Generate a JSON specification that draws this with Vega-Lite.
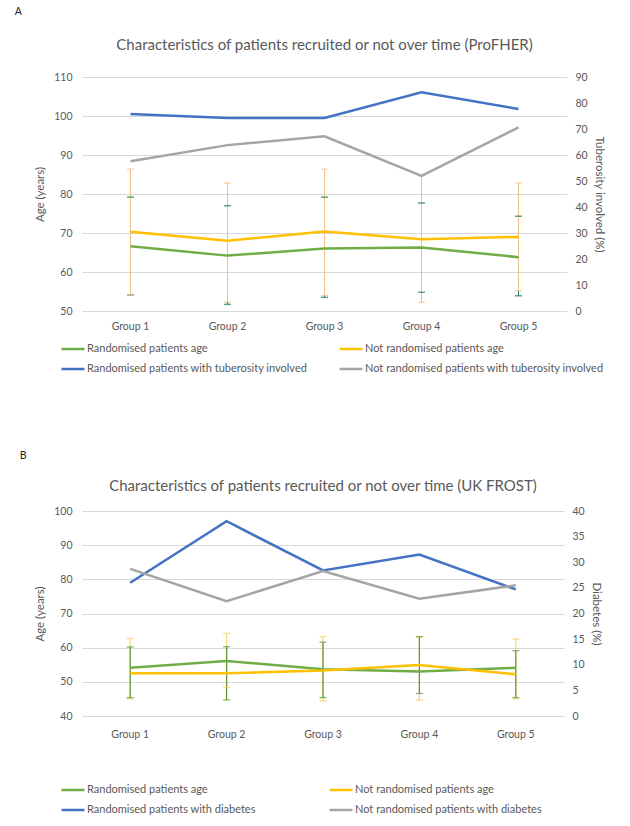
{
  "$schema": "https://vega.github.io/schema/vega-lite/v6.json",
  "padding": {"left": 14, "top": 6, "right": 10, "bottom": 0},
  "background": "white",
  "config": {
    "font": "Lato",
    "view": {"stroke": null},
    "axis": {"labelColor": "#595959", "titleColor": "#595959", "labelFontSize": 10.5, "titleFontSize": 11.5, "titleFontWeight": "normal", "domain": false, "ticks": false, "gridColor": "#D9D9D9", "gridWidth": 1},
    "title": {"color": "#595959", "fontWeight": "normal"},
    "legend": {"labelColor": "#595959", "labelFontSize": 11, "symbolType": "stroke", "symbolSize": 529, "symbolStrokeWidth": 2.5, "labelLimit": 400, "rowPadding": 2, "labelOffset": 1, "direction": "horizontal"}
  },
  "datasets": {
    "ageA": [
      {"g": "Group 1", "s": "Randomised patients age", "m": 66.6, "lo": 54.1, "hi": 79.2},
      {"g": "Group 2", "s": "Randomised patients age", "m": 64.2, "lo": 51.7, "hi": 77.0},
      {"g": "Group 3", "s": "Randomised patients age", "m": 66.0, "lo": 53.5, "hi": 79.2},
      {"g": "Group 4", "s": "Randomised patients age", "m": 66.3, "lo": 54.8, "hi": 77.7},
      {"g": "Group 5", "s": "Randomised patients age", "m": 63.8, "lo": 53.9, "hi": 74.3},
      {"g": "Group 1", "s": "Not randomised patients age", "m": 70.3, "lo": 54.1, "hi": 86.4},
      {"g": "Group 2", "s": "Not randomised patients age", "m": 68.0, "lo": 52.3, "hi": 82.8},
      {"g": "Group 3", "s": "Not randomised patients age", "m": 70.4, "lo": 54.0, "hi": 86.4},
      {"g": "Group 4", "s": "Not randomised patients age", "m": 68.4, "lo": 52.2, "hi": 84.7},
      {"g": "Group 5", "s": "Not randomised patients age", "m": 69.0, "lo": 55.2, "hi": 82.8}
    ],
    "pctA": [
      {"g": "Group 1", "s": "Randomised patients with tuberosity involved", "p": 75.8},
      {"g": "Group 2", "s": "Randomised patients with tuberosity involved", "p": 74.2},
      {"g": "Group 3", "s": "Randomised patients with tuberosity involved", "p": 74.2},
      {"g": "Group 4", "s": "Randomised patients with tuberosity involved", "p": 84.1},
      {"g": "Group 5", "s": "Randomised patients with tuberosity involved", "p": 77.7},
      {"g": "Group 1", "s": "Not randomised patients with tuberosity involved", "p": 57.6},
      {"g": "Group 2", "s": "Not randomised patients with tuberosity involved", "p": 63.8},
      {"g": "Group 3", "s": "Not randomised patients with tuberosity involved", "p": 67.2},
      {"g": "Group 4", "s": "Not randomised patients with tuberosity involved", "p": 52.0},
      {"g": "Group 5", "s": "Not randomised patients with tuberosity involved", "p": 70.6}
    ],
    "ageB": [
      {"g": "Group 1", "s": "Randomised patients age", "m": 54.1, "lo": 45.4, "hi": 60.2},
      {"g": "Group 2", "s": "Randomised patients age", "m": 56.1, "lo": 44.7, "hi": 60.3},
      {"g": "Group 3", "s": "Randomised patients age", "m": 53.7, "lo": 45.4, "hi": 61.6},
      {"g": "Group 4", "s": "Randomised patients age", "m": 53.0, "lo": 46.6, "hi": 63.2},
      {"g": "Group 5", "s": "Randomised patients age", "m": 54.1, "lo": 45.4, "hi": 59.1},
      {"g": "Group 1", "s": "Not randomised patients age", "m": 52.5, "lo": 45.0, "hi": 62.7},
      {"g": "Group 2", "s": "Not randomised patients age", "m": 52.5, "lo": 48.4, "hi": 64.2},
      {"g": "Group 3", "s": "Not randomised patients age", "m": 53.3, "lo": 44.4, "hi": 63.2},
      {"g": "Group 4", "s": "Not randomised patients age", "m": 54.9, "lo": 44.7, "hi": 63.2},
      {"g": "Group 5", "s": "Not randomised patients age", "m": 52.2, "lo": 45.0, "hi": 62.5}
    ],
    "pctB": [
      {"g": "Group 1", "s": "Randomised patients with diabetes", "p": 26.0},
      {"g": "Group 2", "s": "Randomised patients with diabetes", "p": 38.0},
      {"g": "Group 3", "s": "Randomised patients with diabetes", "p": 28.4},
      {"g": "Group 4", "s": "Randomised patients with diabetes", "p": 31.5},
      {"g": "Group 5", "s": "Randomised patients with diabetes", "p": 24.7},
      {"g": "Group 1", "s": "Not randomised patients with diabetes", "p": 28.7},
      {"g": "Group 2", "s": "Not randomised patients with diabetes", "p": 22.4},
      {"g": "Group 3", "s": "Not randomised patients with diabetes", "p": 28.3},
      {"g": "Group 4", "s": "Not randomised patients with diabetes", "p": 22.9},
      {"g": "Group 5", "s": "Not randomised patients with diabetes", "p": 25.5}
    ]
  },
  "spacing": 76,
  "resolve": {"scale": {"color": "independent"}, "legend": {"color": "independent"}},
  "vconcat": [
    {
      "title": {"text": "A", "anchor": "start", "fontSize": 10.5, "color": "#222222", "dx": -20, "offset": 21},
      "vconcat": [
        {
          "width": 485,
          "height": 234,
          "title": {"text": "Characteristics of patients recruited or not over time (ProFHER)", "fontSize": 15, "offset": 19},
          "encoding": {"x": {"field": "g", "type": "nominal", "axis": {"title": null, "labelAngle": 0, "grid": false, "labelPadding": 10}}},
          "layer": [
            {
              "data": {"name": "ageA"},
              "layer": [
                {
                  "transform": [{"filter": "datum.s === 'Randomised patients age'"}],
                  "mark": {"type": "rule", "color": "#1E7A50", "strokeWidth": 1},
                  "encoding": {
                    "y": {"field": "lo", "type": "quantitative", "scale": {"domain": [50, 110], "nice": false, "zero": false}, "axis": {"title": "Age (years)", "values": [50, 60, 70, 80, 90, 100, 110], "grid": true, "labelPadding": 10, "titlePadding": 8}},
                    "y2": {"field": "hi"}
                  }
                },
                {
                  "transform": [{"filter": "datum.s === 'Not randomised patients age'"}],
                  "mark": {"type": "rule", "color": "#F2C08A", "strokeWidth": 1.1},
                  "encoding": {"y": {"field": "lo", "type": "quantitative", "axis": {"title": "Age (years)", "values": [50, 60, 70, 80, 90, 100, 110], "grid": true, "labelPadding": 10, "titlePadding": 8}}, "y2": {"field": "hi"}}
                },
                {
                  "transform": [{"filter": "datum.s === 'Randomised patients age'"}],
                  "mark": {"type": "tick", "color": "#1E7A50", "size": 7, "thickness": 1.5},
                  "encoding": {"y": {"field": "lo", "type": "quantitative", "axis": {"title": "Age (years)", "values": [50, 60, 70, 80, 90, 100, 110], "grid": true, "labelPadding": 10, "titlePadding": 8}}}
                },
                {
                  "transform": [{"filter": "datum.s === 'Randomised patients age'"}],
                  "mark": {"type": "tick", "color": "#1E7A50", "size": 7, "thickness": 1.5},
                  "encoding": {"y": {"field": "hi", "type": "quantitative", "axis": {"title": "Age (years)", "values": [50, 60, 70, 80, 90, 100, 110], "grid": true, "labelPadding": 10, "titlePadding": 8}}}
                },
                {
                  "transform": [{"filter": "datum.s === 'Not randomised patients age'"}],
                  "mark": {"type": "tick", "color": "#F2C08A", "size": 7, "thickness": 1.2},
                  "encoding": {"y": {"field": "lo", "type": "quantitative", "axis": {"title": "Age (years)", "values": [50, 60, 70, 80, 90, 100, 110], "grid": true, "labelPadding": 10, "titlePadding": 8}}}
                },
                {
                  "transform": [{"filter": "datum.s === 'Not randomised patients age'"}],
                  "mark": {"type": "tick", "color": "#F2C08A", "size": 7, "thickness": 1.2},
                  "encoding": {"y": {"field": "hi", "type": "quantitative", "axis": {"title": "Age (years)", "values": [50, 60, 70, 80, 90, 100, 110], "grid": true, "labelPadding": 10, "titlePadding": 8}}}
                },
                {
                  "mark": {"type": "line", "strokeWidth": 2.5},
                  "encoding": {
                    "y": {"field": "m", "type": "quantitative", "axis": {"title": "Age (years)", "values": [50, 60, 70, 80, 90, 100, 110], "grid": true, "labelPadding": 10, "titlePadding": 8}},
                    "color": {"field": "s", "type": "nominal", "scale": {"domain": ["Randomised patients age", "Not randomised patients age", "Randomised patients with tuberosity involved", "Not randomised patients with tuberosity involved"], "range": ["#70AD47", "#FFC000", "#4472C4", "#A5A5A5"]},
                      "legend": {"title": null, "orient": "none", "legendX": -22, "legendY": 259, "columns": 2, "columnPadding": 26}}
                  }
                }
              ]
            },
            {
              "data": {"name": "pctA"},
              "mark": {"type": "line", "strokeWidth": 2.5},
              "encoding": {
                "y": {"field": "p", "type": "quantitative", "scale": {"domain": [0, 90], "nice": false}, "axis": {"orient": "right", "title": "Tuberosity involved (%)", "values": [0, 10, 20, 30, 40, 50, 60, 70, 80, 90], "grid": false, "labelPadding": 8, "titlePadding": 6}},
                "color": {"field": "s", "type": "nominal", "scale": {"domain": ["Randomised patients age", "Not randomised patients age", "Randomised patients with tuberosity involved", "Not randomised patients with tuberosity involved"], "range": ["#70AD47", "#FFC000", "#4472C4", "#A5A5A5"]},
                  "legend": {"title": null, "orient": "none", "legendX": -22, "legendY": 259, "columns": 2, "columnPadding": 26}}
              }
            }
          ],
          "resolve": {"scale": {"y": "independent"}}
        }
      ]
    },
    {
      "title": {"text": "B", "anchor": "start", "fontSize": 10.5, "color": "#222222", "dx": -15, "offset": 18},
      "vconcat": [
        {
          "width": 482,
          "height": 205,
          "title": {"text": "Characteristics of patients recruited or not over time (UK FROST)", "fontSize": 15, "offset": 12},
          "encoding": {"x": {"field": "g", "type": "nominal", "axis": {"title": null, "labelAngle": 0, "grid": false, "labelPadding": 13}}},
          "layer": [
            {
              "data": {"name": "ageB"},
              "layer": [
                {
                  "transform": [{"filter": "datum.s === 'Not randomised patients age'"}],
                  "mark": {"type": "rule", "color": "#F5D778", "strokeWidth": 1.2},
                  "encoding": {
                    "y": {"field": "lo", "type": "quantitative", "scale": {"domain": [40, 100], "nice": false, "zero": false}, "axis": {"title": "Age (years)", "values": [40, 50, 60, 70, 80, 90, 100], "grid": true, "labelPadding": 10, "titlePadding": 8}},
                    "y2": {"field": "hi"}
                  }
                },
                {
                  "transform": [{"filter": "datum.s === 'Randomised patients age'"}],
                  "mark": {"type": "rule", "color": "#5E9432", "strokeWidth": 1.2},
                  "encoding": {"y": {"field": "lo", "type": "quantitative", "axis": {"title": "Age (years)", "values": [40, 50, 60, 70, 80, 90, 100], "grid": true, "labelPadding": 10, "titlePadding": 8}}, "y2": {"field": "hi"}}
                },
                {
                  "transform": [{"filter": "datum.s === 'Not randomised patients age'"}],
                  "mark": {"type": "tick", "color": "#F2D060", "size": 7, "thickness": 1.3},
                  "encoding": {"y": {"field": "lo", "type": "quantitative", "axis": {"title": "Age (years)", "values": [40, 50, 60, 70, 80, 90, 100], "grid": true, "labelPadding": 10, "titlePadding": 8}}}
                },
                {
                  "transform": [{"filter": "datum.s === 'Not randomised patients age'"}],
                  "mark": {"type": "tick", "color": "#F2D060", "size": 7, "thickness": 1.3},
                  "encoding": {"y": {"field": "hi", "type": "quantitative", "axis": {"title": "Age (years)", "values": [40, 50, 60, 70, 80, 90, 100], "grid": true, "labelPadding": 10, "titlePadding": 8}}}
                },
                {
                  "transform": [{"filter": "datum.s === 'Randomised patients age'"}],
                  "mark": {"type": "tick", "color": "#5E9432", "size": 7, "thickness": 1.3},
                  "encoding": {"y": {"field": "lo", "type": "quantitative", "axis": {"title": "Age (years)", "values": [40, 50, 60, 70, 80, 90, 100], "grid": true, "labelPadding": 10, "titlePadding": 8}}}
                },
                {
                  "transform": [{"filter": "datum.s === 'Randomised patients age'"}],
                  "mark": {"type": "tick", "color": "#5E9432", "size": 7, "thickness": 1.3},
                  "encoding": {"y": {"field": "hi", "type": "quantitative", "axis": {"title": "Age (years)", "values": [40, 50, 60, 70, 80, 90, 100], "grid": true, "labelPadding": 10, "titlePadding": 8}}}
                },
                {
                  "mark": {"type": "line", "strokeWidth": 2.5},
                  "encoding": {
                    "y": {"field": "m", "type": "quantitative", "axis": {"title": "Age (years)", "values": [40, 50, 60, 70, 80, 90, 100], "grid": true, "labelPadding": 10, "titlePadding": 8}},
                    "color": {"field": "s", "type": "nominal", "scale": {"domain": ["Randomised patients age", "Not randomised patients age", "Randomised patients with diabetes", "Not randomised patients with diabetes"], "range": ["#70AD47", "#FFC000", "#4472C4", "#A5A5A5"]},
                      "legend": {"title": null, "orient": "none", "legendX": -22, "legendY": 266, "columns": 2, "columnPadding": 68}}
                  }
                }
              ]
            },
            {
              "data": {"name": "pctB"},
              "mark": {"type": "line", "strokeWidth": 2.5},
              "encoding": {
                "y": {"field": "p", "type": "quantitative", "scale": {"domain": [0, 40], "nice": false}, "axis": {"orient": "right", "title": "Diabetes (%)", "values": [0, 5, 10, 15, 20, 25, 30, 35, 40], "grid": false, "labelPadding": 8, "titlePadding": 6}},
                "color": {"field": "s", "type": "nominal", "scale": {"domain": ["Randomised patients age", "Not randomised patients age", "Randomised patients with diabetes", "Not randomised patients with diabetes"], "range": ["#70AD47", "#FFC000", "#4472C4", "#A5A5A5"]},
                  "legend": {"title": null, "orient": "none", "legendX": -22, "legendY": 266, "columns": 2, "columnPadding": 68}}
              }
            }
          ],
          "resolve": {"scale": {"y": "independent"}}
        }
      ]
    }
  ]
}
